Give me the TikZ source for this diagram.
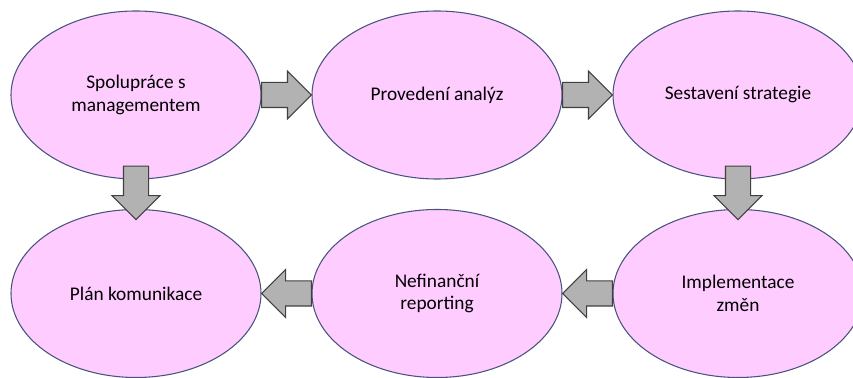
\documentclass[tikz,border=0pt]{standalone}
\usepackage{fontspec}
\setmainfont{Carlito}
\usetikzlibrary{shapes.geometric,calc}

\definecolor{phasefill}{RGB}{255,204,255}
\definecolor{phaseline}{RGB}{72,84,124}
\definecolor{arrowfill}{RGB}{178,178,178}
\definecolor{arrowline}{RGB}{64,64,64}

\begin{document}
\begin{tikzpicture}[%
            x=0.75pt, y=0.75pt,
            phase/.style={shape=ellipse, draw=phaseline, fill=phasefill, line width=0.8pt,
                minimum width=187.5pt, minimum height=126pt, inner sep=0pt, align=center,
                font=\fontsize{14.5}{17}\selectfont},
            blockarrow/.style={draw=arrowline, fill=arrowfill, line width=0.8pt,
                to path={($(\tikztostart)!9.4pt!90:(\tikztotarget)$)
                    -- ($(\tikztotarget)!18pt!(\tikztostart)!9.4pt!90:(\tikztotarget)$)
                    -- ($(\tikztotarget)!18pt!(\tikztostart)!18pt!90:(\tikztotarget)$)
                    -- (\tikztotarget)
                    -- ($(\tikztotarget)!18pt!(\tikztostart)!18pt!-90:(\tikztotarget)$)
                    -- ($(\tikztotarget)!18pt!(\tikztostart)!9.4pt!-90:(\tikztotarget)$)
                    -- ($(\tikztostart)!9.4pt!-90:(\tikztotarget)$) -- cycle}}
        ]
        \useasboundingbox (0,0) rectangle (853,378);

        % top row
        \node [phase] (spolu)  at (136,283) {Spolupráce s\\managementem};
        \node [phase] (analyza) at (437,283) {Provedení analýz};
        \node [phase] (strat)  at (738,283) {Sestavení strategie};

        % bottom row
        \node [phase] (plan)   at (136,84.5) {Plán komunikace};
        \node [phase] (nefin)  at (437,84.5) {Nefinanční\\reporting};
        \node [phase] (impl)   at (738,84.5) {Implementace\\změn};

        \coordinate (spolubot) at ([yshift=10pt]spolu.south);
        \coordinate (plantop)  at ([yshift=-8pt]plan.north);
        \coordinate (stratbot) at ([yshift=10pt]strat.south);
        \coordinate (impltop)  at ([yshift=-8pt]impl.north);

        \draw [blockarrow] (spolu.east) to (analyza.west);
        \draw [blockarrow] (analyza.east) to (strat.west);
        \draw [blockarrow] (stratbot) to (impltop);
        \draw [blockarrow] (impl.west) to (nefin.east);
        \draw [blockarrow] (nefin.west) to (plan.east);
        \draw [blockarrow] (spolubot) to (plantop);
    \end{tikzpicture}
\end{document}
